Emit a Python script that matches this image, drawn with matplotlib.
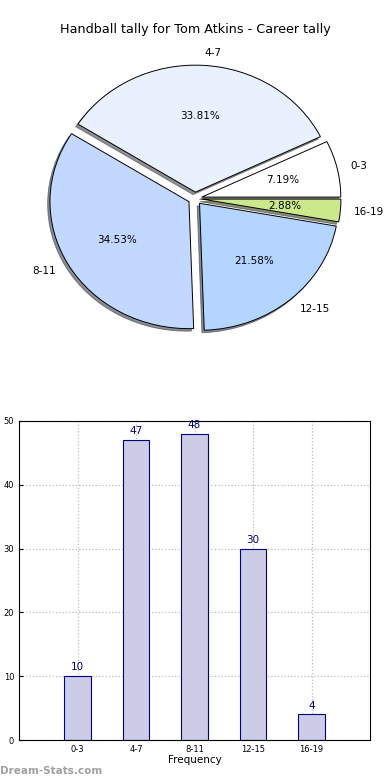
import matplotlib
matplotlib.use("Agg")
import matplotlib.pyplot as plt
import numpy as np

# data
categories = ['0-3', '4-7', '8-11', '12-15', '16-19']
counts = [10, 47, 48, 30, 4]
pie_colors = ['#ffffff', '#e9f1ff', '#c3d8ff', '#b4d5ff', '#cbe98b']
title = "Handball tally for Tom Atkins - Career tally"

fig = plt.figure(figsize=(3.9, 7.8), dpi=100)

# pie (old style, slightly elliptical)
W, H = 390.0, 780.0
top_px, bot_px = 40.0, 362.0
ax1 = fig.add_axes([0, (H - bot_px) / H, 1, (bot_px - top_px) / H])
wedges, texts, autotexts = ax1.pie(counts, labels=categories, colors=pie_colors,
                                   explode=[0.05] * len(counts),
                                   shadow=dict(ox=-0.012, oy=-0.014, alpha=0.6),
                                   autopct='%.2f%%', startangle=0, pctdistance=0.6,
                                   labeldistance=1.1,
                                   wedgeprops=dict(edgecolor='black', linewidth=0.7),
                                   textprops=dict(fontsize=7.5))
ax1.set_aspect('auto')
cx, cy = 195.0, 198.5
rx, ry = 139.0, 127.0
ax1.set_xlim(-cx / rx, (W - cx) / rx)
ax1.set_ylim(-(bot_px - cy) / ry, (cy - top_px) / ry)
ax1.set_axis_off()
fig.text(0.5, 1 - 30 / H, title, ha='center', va='center', fontsize=9.2)

# bar chart
ax2 = fig.add_axes([19 / W, 40 / H, 351 / W, 319 / H])
x = np.arange(len(categories))
ax2.bar(x, counts, width=0.45, color='#cccce6', edgecolor='#000080', linewidth=0.8, zorder=2)
for xi, v in zip(x, counts):
    ax2.text(xi, v + 0.6, str(v), ha='center', va='bottom', color='#000080', fontsize=7.5)
ax2.set_xlim(-1, 5)
ax2.set_ylim(0, 50)
ax2.set_xticks(x)
ax2.set_xticklabels(categories, fontsize=6)
ax2.set_yticks(np.arange(0, 51, 10))
ax2.tick_params(axis='y', labelsize=6, direction='in', length=3)
ax2.tick_params(axis='x', direction='in', length=3)
ax2.grid(True, linestyle=':', color='#bbbbbb', linewidth=0.9, zorder=0)
ax2.set_xlabel('Frequency', fontsize=7.5, labelpad=1)

fig.text(0.0, 1 - 771 / H, 'Dream-Stats.com', ha='left', va='center',
         fontsize=7.5, color='#a0a0a0', fontweight='bold')

plt.savefig('out.png', dpi=100)
